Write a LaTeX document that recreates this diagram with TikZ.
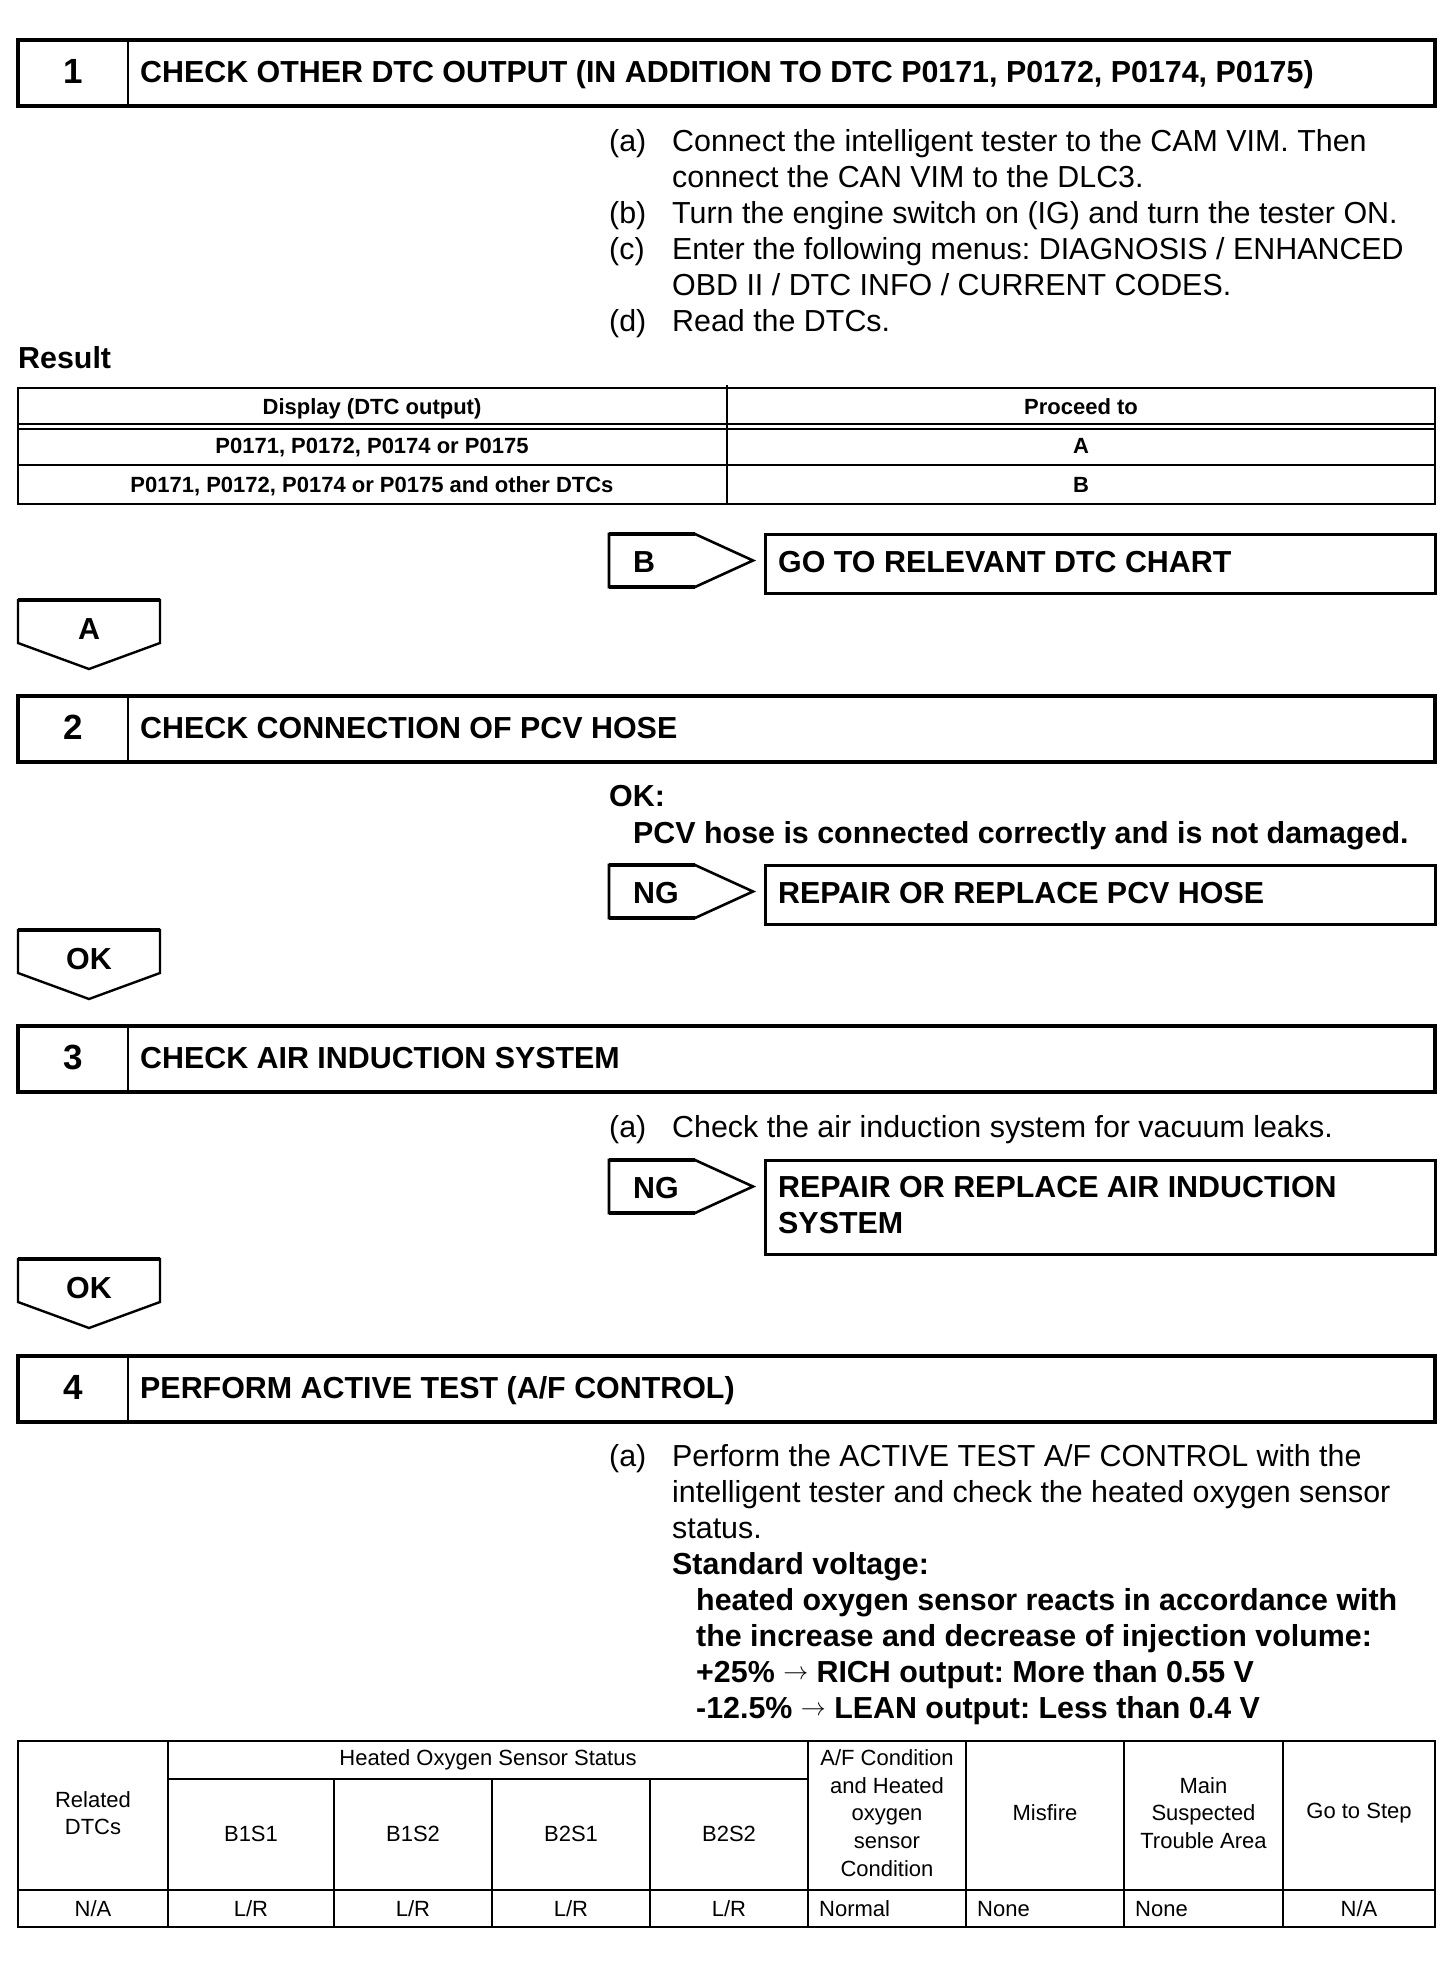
\documentclass[tikz,border=0pt]{standalone}
\usepackage{fontspec}
\setmainfont{Liberation Sans}
\frenchspacing

\tikzset{
  txt/.style={inner sep=0pt, anchor=base west, font=\fontsize{30.4}{36}\selectfont},
  txtbf/.style={txt, font=\fontsize{30.4}{36}\selectfont\bfseries},
  stepnum/.style={inner sep=0pt, anchor=base, font=\fontsize{35}{40}\selectfont\bfseries},
  cell/.style={inner sep=0pt, align=center, font=\fontsize{22}{27.7}\selectfont},
  cellbf/.style={cell, font=\fontsize{22}{27.7}\selectfont\bfseries},
  frame/.style={line width=3.5pt},
  rule/.style={line width=2.5pt},
  thinrule/.style={line width=1.6pt},
}

\begin{document}
\begin{tikzpicture}[x=1pt, y=-1pt, line join=miter]
\useasboundingbox (0,0) rectangle (1456,1976);

% Step headers
\foreach \t/\n/\ttl in {40/1/{CHECK OTHER DTC OUTPUT (IN ADDITION TO DTC P0171, P0172, P0174, P0175)},
                        696/2/{CHECK CONNECTION OF PCV HOSE},
                        1026/3/{CHECK AIR INDUCTION SYSTEM},
                        1356/4/{PERFORM ACTIVE TEST (A/F CONTROL)}}
{
  \draw[frame] (18,\t) rectangle (1435,\t+66);
  \draw[thinrule] (128,\t) -- (128,\t+66);
  \node[stepnum] (num\n) at (73,\t+43) {\n};
  \node[txtbf] (title\n) at (140,\t+42) {\ttl};
}

% Step 1 instructions
\node[txt] (s1a) at (609,151) {(a)};
\node[txt] (s1a1) at (672,151) {Connect the intelligent tester to the CAM VIM. Then};
\node[txt] (s1a2) at (672,187) {connect the CAN VIM to the DLC3.};
\node[txt] (s1b) at (609,223) {(b)};
\node[txt] (s1b1) at (672,223) {Turn the engine switch on (IG) and turn the tester ON.};
\node[txt] (s1c) at (609,259) {(c)};
\node[txt] (s1c1) at (672,259) {Enter the following menus: DIAGNOSIS / ENHANCED};
\node[txt] (s1c2) at (672,295) {OBD II / DTC INFO / CURRENT CODES.};
\node[txt] (s1d) at (609,331) {(d)};
\node[txt] (s1d1) at (672,331) {Read the DTCs.};

% Result table
\node[txtbf] (result) at (18,368) {Result};
\draw[rule] (18,388) rectangle (1435,504);
\draw[line width=1.2pt] (18,424) -- (1435,424);
\draw[rule] (18,429) -- (1435,429);
\draw[rule] (18,465) -- (1435,465);
\draw[thinrule] (727,385) -- (727,504);
\node[cellbf, anchor=base] (hdisp) at (372,414) {Display (DTC output)};
\node[cellbf, anchor=base] (hproc) at (1081,414) {Proceed to};
\node[cellbf, anchor=base] (r1disp) at (372,453) {P0171, P0172, P0174 or P0175};
\node[cellbf, anchor=base] (r1proc) at (1081,453) {A};
\node[cellbf, anchor=base] (r2disp) at (372,492) {P0171, P0172, P0174 or P0175 and other DTCs};
\node[cellbf, anchor=base] (r2proc) at (1081,492) {B};

% Branch arrows to the right
\foreach \t/\lbl in {534/B, 865/NG, 1160/NG}
{
  \draw[line width=2.6pt] (609,\t) -- (695,\t) -- (753,\t+26.5) -- (695,\t+53) -- (609,\t+53) -- cycle;
  \draw[line width=3.2pt] (609,\t) -- (695,\t) (609,\t+53) -- (695,\t+53);
  \node[txtbf] (br\t) at (633,\t+38) {\lbl};
}

% Action boxes
\draw[line width=3pt] (765,534) rectangle (1435,593);
\node[txtbf] (act1) at (778,572) {GO TO RELEVANT DTC CHART};
\draw[line width=3pt] (765,865) rectangle (1435,924);
\node[txtbf] (act2) at (778,903) {REPAIR OR REPLACE PCV HOSE};
\draw[line width=3pt] (765,1160) rectangle (1435,1254);
\node[txtbf] (act3a) at (778,1197) {REPAIR OR REPLACE AIR INDUCTION};
\node[txtbf] (act3b) at (778,1233) {SYSTEM};

% Arrows down to the next step
\foreach \t/\lbl in {600/A, 930/OK, 1259/OK}
{
  \draw[line width=2.4pt] (18,\t) -- (160,\t) -- (160,\t+43) -- (89,\t+69) -- (18,\t+43) -- cycle;
  \draw[line width=4pt] (18,\t) -- (160,\t);
  \node[txtbf, anchor=base] (dn\t) at (89,\t+39) {\lbl};
}

% Step 2 text
\node[txtbf] (ok2) at (609,806) {OK:};
\node[txtbf] (ok2b) at (633,843) {PCV hose is connected correctly and is not damaged.};

% Step 3 text
\node[txt] (s3a) at (609,1137) {(a)};
\node[txt] (s3a1) at (672,1137) {Check the air induction system for vacuum leaks.};

% Step 4 text
\node[txt] (s4a) at (609,1466) {(a)};
\node[txt] (s4a1) at (672,1466) {Perform the ACTIVE TEST A/F CONTROL with the};
\node[txt] (s4a2) at (672,1502) {intelligent tester and check the heated oxygen sensor};
\node[txt] (s4a3) at (672,1538) {status.};
\node[txtbf] (std) at (672,1574) {Standard voltage:};
\node[txtbf] (std1) at (696,1610) {heated oxygen sensor reacts in accordance with};
\node[txtbf] (std2) at (696,1646) {the increase and decrease of injection volume:};
\node[txtbf] (std3) at (696,1682) {+25\% \raisebox{3pt}{$\rightarrow$} RICH output: More than 0.55 V};
\node[txtbf] (std4) at (696,1718) {-12.5\% \raisebox{3pt}{$\rightarrow$} LEAN output: Less than 0.4 V};

% Sensor status table
\draw[rule] (18,1741) rectangle (1435,1927);
\draw[rule] (18,1890) -- (1435,1890);
\draw[thinrule] (168,1779) -- (808,1779);
\foreach \x in {168,808,966,1124,1283}
  \draw[thinrule] (\x,1741) -- (\x,1927);
\foreach \x in {334,492,650}
  \draw[thinrule] (\x,1779) -- (\x,1927);

\node[cell] (hrel) at (93,1813) {Related\\DTCs};
\node[cell] (hhos) at (488,1760) {Heated Oxygen Sensor Status};
\node[cell] (hb1s1) at (251,1834) {B1S1};
\node[cell] (hb1s2) at (413,1834) {B1S2};
\node[cell] (hb2s1) at (571,1834) {B2S1};
\node[cell] (hb2s2) at (729,1834) {B2S2};
\node[cell] (haf) at (887,1813) {A/F Condition\\and Heated\\oxygen\\sensor\\Condition};
\node[cell] (hmis) at (1045,1813) {Misfire};
\node[cell] (hmain) at (1203.5,1813) {Main\\Suspected\\Trouble Area};
\node[cell] (hgo) at (1359,1813) {Go to Step};

\node[cell, anchor=base] (drel) at (93,1916) {N/A};
\node[cell, anchor=base] (db1s1) at (251,1916) {L/R};
\node[cell, anchor=base] (db1s2) at (413,1916) {L/R};
\node[cell, anchor=base] (db2s1) at (571,1916) {L/R};
\node[cell, anchor=base] (db2s2) at (729,1916) {L/R};
\node[cell, anchor=base west] (daf) at (819,1916) {Normal};
\node[cell, anchor=base west] (dmis) at (977,1916) {None};
\node[cell, anchor=base west] (dmain) at (1135,1916) {None};
\node[cell, anchor=base] (dgo) at (1359,1916) {N/A};
\end{tikzpicture}
\end{document}
